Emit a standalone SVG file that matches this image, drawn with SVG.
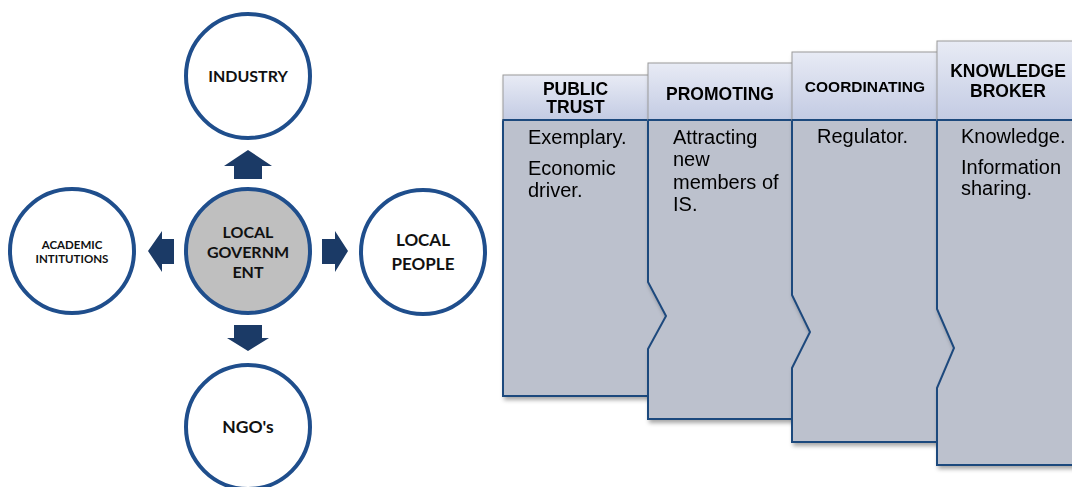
<svg xmlns="http://www.w3.org/2000/svg" width="1072" height="487" viewBox="0 0 1072 487">
<defs>
<linearGradient id="hg" x1="0" y1="0" x2="0" y2="1">
<stop offset="0" stop-color="#E8EBF5"/>
<stop offset="1" stop-color="#C3CBE3"/>
</linearGradient>
<filter id="sh" x="-10%" y="-10%" width="130%" height="130%">
<feDropShadow dx="2" dy="3" stdDeviation="2" flood-color="#000" flood-opacity="0.35"/>
</filter>
</defs>
<style>
.c{fill:#fff;stroke:#1F4E8C;stroke-width:4}
.ct{font-family:Lato,"Open Sans",sans-serif;font-weight:bold;fill:#111;text-anchor:middle}
.ar{fill:#1B3A66}
.body{fill:#BCC1CD;stroke:#1F497D;stroke-width:2}
.hd{fill:url(#hg);stroke:#9A9A9A;stroke-width:1}
.hl{stroke:#1F497D;stroke-width:2}
.ht{font-family:"Liberation Sans",Arial,sans-serif;font-weight:bold;fill:#000;text-anchor:middle}
.bt{font-family:"Liberation Sans",Arial,sans-serif;font-size:20px;fill:#000}
</style>
<g id="connectors">
<polygon class="ar" points="248,150 272,166 262,166 262,179 234,179 234,166 224,166"/>
<polygon class="ar" points="234,325 262,325 262,338 269,338 248,351 227,338 234,338"/>
<polygon class="ar" points="148,251 162,231 162,239 174,239 174,264 162,264 162,272"/>
<polygon class="ar" points="322,239 335,239 335,231 348,251 335,272 335,264 322,264"/>
</g>
<g id="industry">
<circle class="c" cx="248" cy="76" r="62"/>
<text class="ct" x="248" y="82" font-size="16">INDUSTRY</text>
</g>
<g id="academic">
<circle class="c" cx="72" cy="251" r="62"/>
<text class="ct" x="72" y="249" font-size="11.5">ACADEMIC</text>
<text class="ct" x="72" y="263" font-size="11.5">INTITUTIONS</text>
</g>
<g id="local-government">
<circle class="c" cx="248" cy="251" r="62" style="fill:#BFBFBF"/>
<text class="ct" x="248" y="238" font-size="16">LOCAL</text>
<text class="ct" x="248" y="258" font-size="16">GOVERNM</text>
<text class="ct" x="248" y="278" font-size="16">ENT</text>
</g>
<g id="local-people">
<circle class="c" cx="423" cy="252" r="62"/>
<text class="ct" x="423" y="246" font-size="17">LOCAL</text>
<text class="ct" x="423" y="270" font-size="17">PEOPLE</text>
</g>
<g id="ngos">
<circle class="c" cx="248" cy="427" r="62"/>
<text class="ct" x="248" y="433" font-size="17.5">NGO's</text>
</g>
<g id="public-trust" filter="url(#sh)">
<path class="body" d="M503,120 H670 V396 H503 Z"/>
<rect class="hd" x="503" y="75" width="167" height="45"/>
<line class="hl" x1="503" y1="120" x2="670" y2="120"/>
<text class="ht" x="575.5" y="95" font-size="17.5">PUBLIC</text>
<text class="ht" x="575.5" y="113" font-size="17.5">TRUST</text>
<text class="bt" x="528" y="144">Exemplary.</text>
<text class="bt" x="528" y="175">Economic</text>
<text class="bt" x="528" y="197">driver.</text>
</g>
<g id="promoting" filter="url(#sh)">
<path class="body" d="M648,120 H815 V419 H648 V349 L666,316 L648,282 Z"/>
<rect class="hd" x="648" y="63" width="167" height="57"/>
<line class="hl" x1="648" y1="120" x2="815" y2="120"/>
<text class="ht" x="720" y="100" font-size="17.5">PROMOTING</text>
<text class="bt" x="673" y="144">Attracting</text>
<text class="bt" x="673" y="166">new</text>
<text class="bt" x="673" y="189">members of</text>
<text class="bt" x="673" y="211">IS.</text>
</g>
<g id="coordinating" filter="url(#sh)">
<path class="body" d="M792,120 H960 V442 H792 V368 L810,332 L792,295 Z"/>
<rect class="hd" x="792" y="52" width="168" height="68"/>
<line class="hl" x1="792" y1="120" x2="960" y2="120"/>
<text class="ht" x="865" y="92" font-size="15.5">COORDINATING</text>
<text class="bt" x="817" y="143">Regulator.</text>
</g>
<g id="knowledge-broker" filter="url(#sh)">
<path class="body" d="M937,120 H1090 V465 H937 V388 L954,348 L937,309 Z"/>
<rect class="hd" x="937" y="41" width="153" height="79"/>
<line class="hl" x1="937" y1="120" x2="1090" y2="120"/>
<text class="ht" x="1008" y="77" font-size="17.5">KNOWLEDGE</text>
<text class="ht" x="1008" y="97" font-size="17.5">BROKER</text>
<text class="bt" x="961" y="143">Knowledge.</text>
<text class="bt" x="961" y="174">Information</text>
<text class="bt" x="961" y="195">sharing.</text>
</g>
</svg>
